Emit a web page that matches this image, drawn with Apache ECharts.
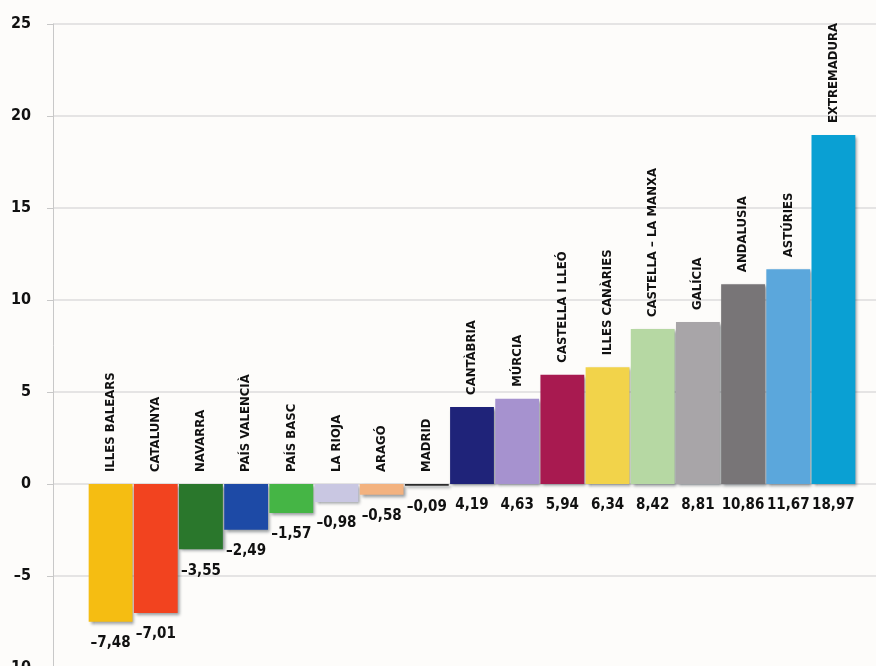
<!DOCTYPE html>
<html>
<head>
<meta charset="utf-8">
<script src="https://cdn.jsdelivr.net/npm/echarts@6/dist/echarts.min.js"></script>
<style>
html,body{margin:0;padding:0;background:#fdfcfa;}
#chart{width:876px;height:666px;}
</style>
</head>
<body>
<div id="chart"></div>
<script>
const categories = ['ILLES BALEARS','CATALUNYA','NAVARRA','PAÍS VALENCIÀ','PAÍS BASC','LA RIOJA','ARAGÓ','MADRID','CANTÀBRIA','MÚRCIA','CASTELLA I LLEÓ','ILLES CANÀRIES','CASTELLA – LA MANXA','GALÍCIA','ANDALUSIA','ASTÚRIES','EXTREMADURA'];
const values = [-7.48,-7.01,-3.55,-2.49,-1.57,-0.98,-0.58,-0.09,4.19,4.63,5.94,6.34,8.42,8.81,10.86,11.67,18.97];
const colors = ['#f5bd12','#f2431f','#2a772c','#1d4aa6','#45b545','#c9c7e2','#f3b27f','#2b2b2b','#1f2379','#a692cf','#a81a50','#f2d34a','#b6d8a3','#a8a5a8','#787577','#5ba7dc','#0aa0d3'];
const yMin = -10, yMax = 25, yStep = 5;

const FONT = "'Liberation Sans Narrow','DejaVu Sans Condensed',sans-serif";
const fmtNum = v => (v < 0 ? '–' : '') + Math.abs(v).toFixed(2).replace('.', ',');

const chart = echarts.init(document.getElementById('chart'));
chart.setOption({
  backgroundColor: '#fdfcfa',
  animation: false,
  grid: [
    {left: 88, right: 20, top: 24, height: 644, outerBoundsMode: 'none', containLabel: false},
    {left: 53, right: 0, top: 24, height: 644, outerBoundsMode: 'none', containLabel: false}
  ],
  xAxis: [
    {type: 'category', gridIndex: 0, data: categories, show: false},
    {type: 'value', gridIndex: 1, min: 0, max: 1, show: false}
  ],
  yAxis: [
    {type: 'value', gridIndex: 0, min: yMin, max: yMax, interval: yStep, show: false},
    {type: 'value', gridIndex: 1, min: yMin, max: yMax, interval: yStep,
     axisLine: {show: true, lineStyle: {color: '#c8c8c8', width: 1}},
     axisTick: {show: true, length: 6, lineStyle: {color: '#c8c8c8'}},
     splitLine: {show: true, lineStyle: {color: '#dcdcdc', width: 1.5}},
     axisLabel: {margin: 22, color: '#111', fontFamily: FONT, fontWeight: 'bold', fontSize: 16,
       formatter: v => (v < 0 ? '–' + Math.abs(v) : String(v))}}
  ],
  series: [
    {
      type: 'bar', xAxisIndex: 0, yAxisIndex: 0,
      barCategoryGap: '3%',
      data: values.map((v, i) => ({value: v, itemStyle: {color: colors[i]}})),
      itemStyle: {shadowColor: 'rgba(20,30,40,0.45)', shadowBlur: 3, shadowOffsetX: 2, shadowOffsetY: 2},
      label: {show: true, position: 'bottom', distance: 14, color: '#111', fontFamily: FONT,
        fontWeight: 'bold', fontSize: 15, formatter: p => fmtNum(p.value)}
    },
    {
      type: 'bar', xAxisIndex: 0, yAxisIndex: 0,
      barGap: '-100%', barCategoryGap: '3%', silent: true,
      data: values,
      itemStyle: {color: 'rgba(0,0,0,0)'},
      label: {show: true, position: 'top', distance: 12, rotate: 90, align: 'left', verticalAlign: 'middle',
        color: '#111', fontFamily: FONT, fontWeight: 'bold', fontSize: 13, formatter: '{b}'}
    }
  ]
});
</script>
</body>
</html>
